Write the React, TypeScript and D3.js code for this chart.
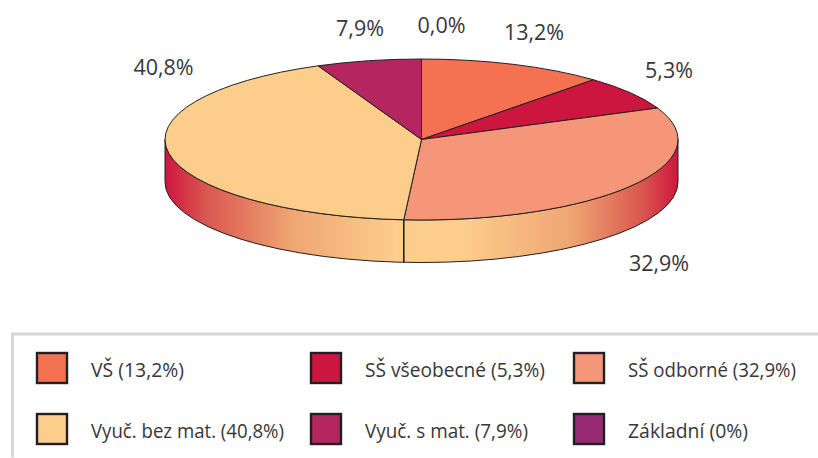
import React from "react";
import * as d3 from "d3";

const categories = ["VŠ", "SŠ všeobecné", "SŠ odborné", "Vyuč. bez mat.", "Vyuč. s mat.", "Základní"];
const shownLabels = ["13,2%", "5,3%", "32,9%", "40,8%", "7,9%", "0,0%"];
const legendShares = ["13,2%", "5,3%", "32,9%", "40,8%", "7,9%", "0%"];
// slice sizes as actually drawn in the picture (read from the slice boundaries)
const drawnShares = [11.7, 6.9, 32.5, 42.3, 6.6, 0];
const colors = ["#F47252", "#CD163F", "#F69679", "#FDCD8B", "#B3265F", "#962A72"];
const labelX = [534, 669, 659, 163.5, 360, 441.5];
const labelY = [40, 78, 271, 75, 36, 33];
const legendTextWidths = [93, 180, 168, 193, 163, 120];

const W = 818, H = 458;
const cx = 421.5, cy = 139.5, rx = 256.5, ry = 80.5, depth = 42.5;
const ink = "#231F20";
const textColor = "#3A3637";
const font = "'Open Sans', sans-serif";

export default function App() {
  const pie = d3.pie<number>().sort(null).startAngle(0).endAngle(2 * Math.PI);
  const arcs = pie(drawnShares);
  const arc = d3.arc<d3.PieArcDatum<number>>().innerRadius(0).outerRadius(rx);
  const scaleY = ry / rx;
  const sepAngle = arcs[2].endAngle;
  const sepX = cx + rx * Math.sin(sepAngle);
  const sepY = cy - ry * Math.cos(sepAngle);
  const wall = `M${cx - rx},${cy} L${cx - rx},${cy + depth} A${rx},${ry} 0 0 0 ${cx + rx},${cy + depth} L${cx + rx},${cy} A${rx},${ry} 0 0 1 ${cx - rx},${cy} Z`;

  const legendCols = [36, 310, 573];
  const legendRows = [352, 413];

  return (
    <svg width={W} height={H} style={{ position: "absolute", left: 0, top: 0, display: "block" }}>
      <defs>
        <linearGradient id="wallGrad" gradientUnits="userSpaceOnUse" x1={cx - rx} x2={cx + rx} y1={0} y2={0}>
          <stop offset="0" stopColor="#CD163F" />
          <stop offset="0.08" stopColor="#D9574F" />
          <stop offset="0.25" stopColor="#EFA673" />
          <stop offset="0.45" stopColor="#FDCD8B" />
          <stop offset="0.58" stopColor="#FDCD8B" />
          <stop offset="0.79" stopColor="#EFA673" />
          <stop offset="0.93" stopColor="#D9574F" />
          <stop offset="1" stopColor="#CD163F" />
        </linearGradient>
      </defs>
      <rect x={0} y={0} width={W} height={H} fill="#fff" />
      <path d={wall} fill="url(#wallGrad)" stroke={ink} strokeWidth={1} />
      <line x1={sepX} x2={sepX} y1={sepY} y2={sepY + depth} stroke={ink} strokeWidth={1.6} />
      <g transform={`translate(${cx},${cy}) scale(1,${scaleY})`}>
        {arcs.map((d, i) => (
          <path key={i} d={arc(d) ?? ""} fill={colors[i]} stroke={ink} strokeWidth={1} vectorEffect="non-scaling-stroke" strokeLinejoin="round" />
        ))}
      </g>
      {shownLabels.map((t, i) => (
        <text key={i} x={labelX[i]} y={labelY[i]} textAnchor="middle" fontFamily={font} fontSize={21.5} fill={textColor}>{t}</text>
      ))}
      <path d={`M${W},334 H12.5 V457.5`} fill="none" stroke="#D5D6D8" strokeWidth={3} />
      {categories.map((c, i) => {
        const x = legendCols[i % 3];
        const y = legendRows[Math.floor(i / 3)];
        return (
          <g key={c}>
            <rect x={x + 1} y={y + 1} width={30} height={30} fill={colors[i]} stroke={ink} strokeWidth={2.4} />
            <text x={x + 55} y={y + 24.5} fontFamily={font} fontSize={19.5} textLength={legendTextWidths[i]} lengthAdjust="spacingAndGlyphs" fill={textColor}>{`${c} (${legendShares[i]})`}</text>
          </g>
        );
      })}
    </svg>
  );
}
